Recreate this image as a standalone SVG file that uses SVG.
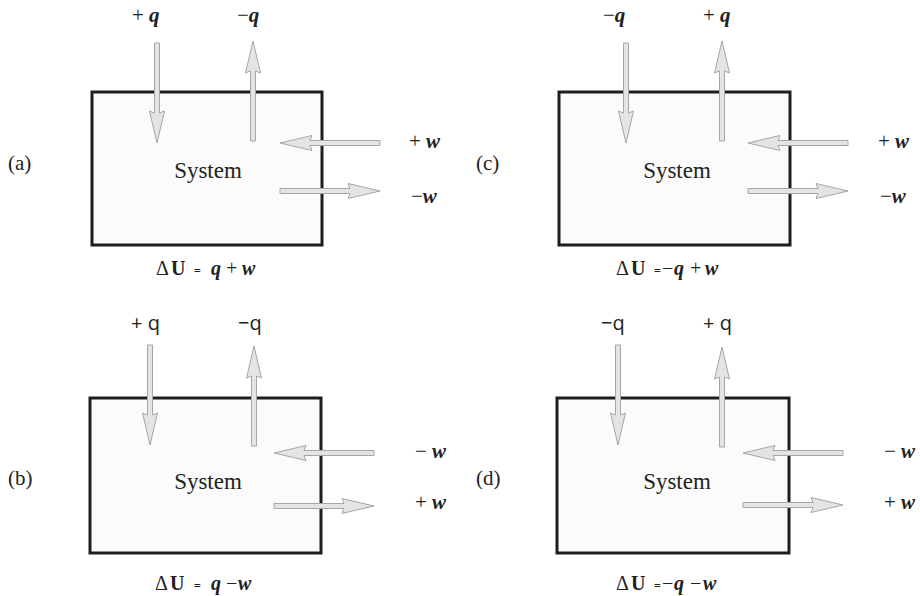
<svg xmlns="http://www.w3.org/2000/svg" xmlns:xlink="http://www.w3.org/1999/xlink" width="920" height="596" viewBox="0 0 920 596">
<style>
.box{fill:#fbfbfb;stroke:#1e1e1e;stroke-width:3}
.arr{fill:#e4e4e4;stroke:#a6a6a6;stroke-width:1}
.t{font-family:"Liberation Serif",serif;font-size:21px;fill:#222}
.sys{font-family:"Liberation Serif",serif;font-size:23px;fill:#222;text-anchor:middle}
.bi{font-weight:bold;font-style:italic}
.b{font-weight:bold}
.sq{font-family:"Open Sans",sans-serif;font-size:20px;fill:#222}
.du{font-family:"Liberation Serif",serif;font-size:20px;fill:#222}
.eq{font-size:12px;font-weight:bold}
</style>
<defs>
<path id="arr" class="arr" d="M0,-2.5 L70,-2.5 L68,-7.5 L100,0 L68,7.5 L70,2.5 L0,2.5 Z"/>
</defs>
<rect width="920" height="596" fill="#ffffff"/>

<g id="panel-a">
<rect class="box" x="92" y="92" width="230" height="153"/>
<text class="sys" x="208" y="178">System</text>
<text class="t" x="8" y="170">(a)</text>
<text class="t" x="132" y="22">+ <tspan class="bi">q</tspan></text>
<text class="t" x="237" y="22">−<tspan class="bi">q</tspan></text>
<text class="t" x="409" y="148">+ <tspan class="bi">w</tspan></text>
<text class="t" x="411" y="203">−<tspan class="bi">w</tspan></text>
<text class="du" y="275"><tspan x="156">Δ</tspan><tspan class="b" x="171">U</tspan><tspan class="eq" x="194">=</tspan><tspan class="bi" x="211">q</tspan><tspan x="226">+</tspan><tspan class="bi" x="242">w</tspan></text>
</g>

<g id="panel-c">
<rect class="box" x="559" y="92" width="231" height="153"/>
<text class="sys" x="677" y="178">System</text>
<text class="t" x="476" y="170">(c)</text>
<text class="t" x="603" y="22">−<tspan class="bi">q</tspan></text>
<text class="t" x="703" y="22">+ <tspan class="bi">q</tspan></text>
<text class="t" x="878" y="148">+ <tspan class="bi">w</tspan></text>
<text class="t" x="880" y="203">−<tspan class="bi">w</tspan></text>
<text class="du" y="275"><tspan x="616">Δ</tspan><tspan class="b" x="631">U</tspan><tspan class="eq" x="654">=</tspan><tspan x="662">−</tspan><tspan class="bi" x="674">q</tspan><tspan x="690">+</tspan><tspan class="bi" x="705">w</tspan></text>
</g>

<g id="panel-b">
<rect class="box" x="90" y="398" width="231" height="155"/>
<text class="sys" x="208" y="489">System</text>
<text class="t" x="8" y="485">(b)</text>
<text class="sq" x="131" y="330">+ q</text>
<text class="sq" x="238" y="330">−q</text>
<text class="t" x="415" y="458">− <tspan class="bi">w</tspan></text>
<text class="t" x="415" y="509">+ <tspan class="bi">w</tspan></text>
<text class="du" y="590"><tspan x="155">Δ</tspan><tspan class="b" x="170">U</tspan><tspan class="eq" x="194">=</tspan><tspan class="bi" x="211">q</tspan><tspan x="226">−</tspan><tspan class="bi" x="238">w</tspan></text>
</g>

<g id="panel-d">
<rect class="box" x="557" y="398" width="232" height="155"/>
<text class="sys" x="677" y="489">System</text>
<text class="t" x="476" y="485">(d)</text>
<text class="sq" x="601" y="330">−q</text>
<text class="sq" x="703" y="330">+ q</text>
<text class="t" x="884" y="458">− <tspan class="bi">w</tspan></text>
<text class="t" x="884" y="509">+ <tspan class="bi">w</tspan></text>
<text class="du" y="590"><tspan x="616">Δ</tspan><tspan class="b" x="631">U</tspan><tspan class="eq" x="654">=</tspan><tspan x="662">−</tspan><tspan class="bi" x="674">q</tspan><tspan x="690">−</tspan><tspan class="bi" x="703">w</tspan></text>
</g>

<g id="connectors">
<use xlink:href="#arr" transform="translate(157,43) rotate(90)"/>
<use xlink:href="#arr" transform="translate(253,141) rotate(-90)"/>
<use xlink:href="#arr" transform="translate(380,143) rotate(180)"/>
<use xlink:href="#arr" transform="translate(280,191)"/>

<use xlink:href="#arr" transform="translate(626,43) rotate(90)"/>
<use xlink:href="#arr" transform="translate(722,141) rotate(-90)"/>
<use xlink:href="#arr" transform="translate(848,143) rotate(180)"/>
<use xlink:href="#arr" transform="translate(748,191)"/>

<use xlink:href="#arr" transform="translate(150,345) rotate(90)"/>
<use xlink:href="#arr" transform="translate(254,446) rotate(-90)"/>
<use xlink:href="#arr" transform="translate(374,453) rotate(180)"/>
<use xlink:href="#arr" transform="translate(274,506)"/>

<use xlink:href="#arr" transform="translate(618,345) rotate(90)"/>
<use xlink:href="#arr" transform="translate(722,447) rotate(-90)"/>
<use xlink:href="#arr" transform="translate(843,453) rotate(180)"/>
<use xlink:href="#arr" transform="translate(743,505)"/>
</g>
</svg>
